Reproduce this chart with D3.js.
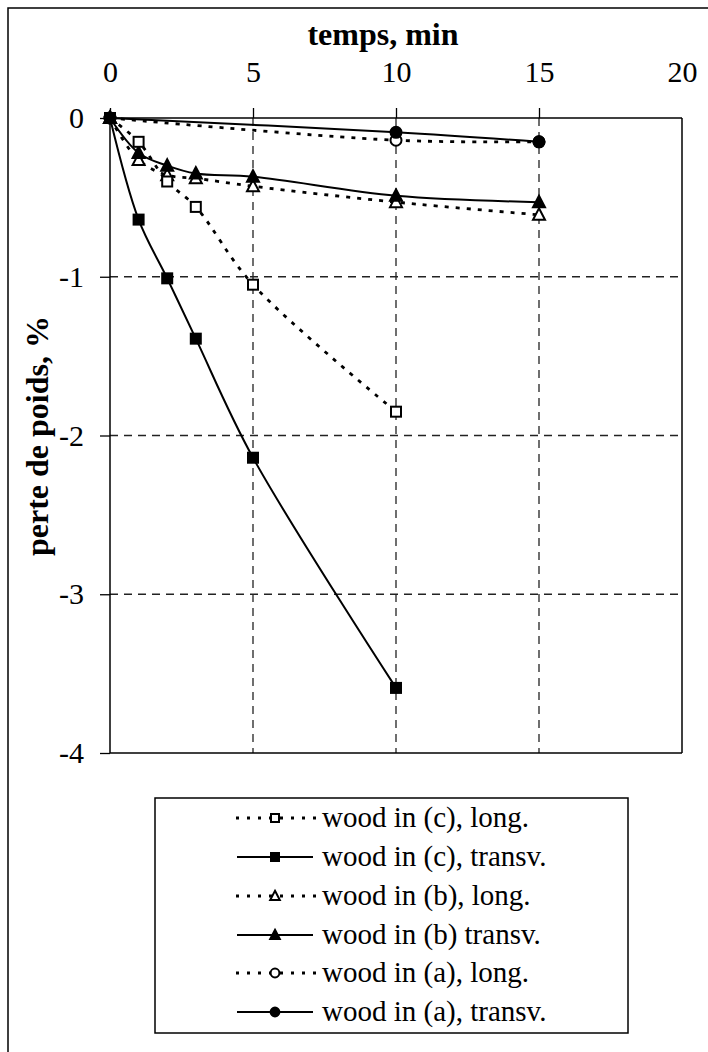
<!DOCTYPE html>
<html><head><meta charset="utf-8">
<script src="https://cdn.jsdelivr.net/npm/d3@7"></script>
<style>body{margin:0;background:#fff}svg{display:block}text{font-family:"Liberation Serif","Times New Roman",serif;fill:#000}</style>
</head><body>
<script>
const xTicks = [0,5,10,15,20];
const yTicks = [0,-1,-2,-3,-4];
const timeC = [0,1,2,3,5,10];
const cLong = [0,-0.15,-0.40,-0.56,-1.05,-1.85];
const cTransv = [0,-0.64,-1.01,-1.39,-2.14,-3.59];
const timeB = [0,1,2,3,5,10,15];
const bLong = [0,-0.265,-0.36,-0.38,-0.43,-0.53,-0.61];
const bTransv = [0,-0.22,-0.30,-0.35,-0.37,-0.49,-0.53];
const timeA = [0,10,15];
const aLong = [0,-0.14,-0.15];
const aTransv = [0,-0.09,-0.15];
const seriesNames = ["wood in (c), long.","wood in (c), transv.","wood in (b), long.","wood in (b) transv.","wood in (a), long.","wood in (a), transv."];

const W=708,H=1052;
const SERIF='"Liberation Serif","Times New Roman",serif';
const svg=d3.select("body").append("svg").attr("width",W).attr("height",H);
svg.append("rect").attr("width",W).attr("height",H).attr("fill","#fff");
svg.append("rect").attr("x",8).attr("y",8).attr("width",W).attr("height",H).attr("fill","none").attr("stroke","#000").attr("stroke-width",1.5);

const x=d3.scaleLinear().domain([0,20]).range([110,682]);
const y=d3.scaleLinear().domain([0,-4]).range([118,753]);

const g=svg.append("g");
g.selectAll(".vg").data(xTicks.filter(d=>d>0&&d<20)).join("line")
 .attr("x1",d=>x(d)).attr("x2",d=>x(d)).attr("y1",y(0)).attr("y2",y(-4))
 .attr("stroke","#222").attr("stroke-width",1.3).attr("stroke-dasharray","8,6");
g.selectAll(".hg").data(yTicks.filter(d=>d<0&&d>-4)).join("line")
 .attr("x1",x(0)).attr("x2",x(20)).attr("y1",d=>y(d)).attr("y2",d=>y(d))
 .attr("stroke","#222").attr("stroke-width",1.3).attr("stroke-dasharray","8,6");
g.append("line").attr("x1",x(20)).attr("x2",x(20)).attr("y1",y(0)).attr("y2",y(-4)).attr("stroke","#000").attr("stroke-width",1.5);
g.append("line").attr("x1",x(0)).attr("x2",x(20)).attr("y1",y(-4)).attr("y2",y(-4)).attr("stroke","#000").attr("stroke-width",1.5);

const xAxis=d3.axisTop(x).tickValues(xTicks).tickSize(10).tickPadding(26).tickFormat(d3.format("d"));
const ax=svg.append("g").attr("transform",`translate(0,${y(0)})`).call(xAxis).attr("font-family",null).attr("font-size",null);
ax.select(".domain").attr("d",`M${x(0)},0H${x(20)}`).attr("stroke","#000").attr("stroke-width",1.5);
ax.selectAll(".tick line").attr("stroke","#000").attr("stroke-width",1.3);
ax.selectAll(".tick text").style("font-size","30px").style("font-family",SERIF);
ax.selectAll(".tick").filter(d=>d===20).select("line").remove();

const yAxis=d3.axisLeft(y).tickValues(yTicks).tickSize(10).tickPadding(16).tickFormat(d=>d===0?"0":"-"+Math.abs(d));
const ay=svg.append("g").attr("transform",`translate(${x(0)},0)`).call(yAxis).attr("font-family",null).attr("font-size",null);
ay.select(".domain").attr("d",`M0,${y(0)}V${y(-4)}`).attr("stroke","#000").attr("stroke-width",1.5);
ay.selectAll(".tick line").attr("stroke","#000").attr("stroke-width",1.3);
ay.selectAll(".tick text").style("font-size","30px").style("font-family",SERIF);

svg.append("text").attr("x",383).attr("y",45).attr("text-anchor","middle").style("font-size","32px").style("font-weight","bold").style("font-family",SERIF).text("temps, min");
svg.append("text").attr("transform","translate(48,436) rotate(-90)").attr("text-anchor","middle").style("font-size","32px").style("font-weight","bold").style("font-family",SERIF).text("perte de poids, %");

const series=[
 {t:timeC,v:cLong,dash:"4,7",shape:"square",fill:false},
 {t:timeC,v:cTransv,dash:null,shape:"square",fill:true},
 {t:timeB,v:bLong,dash:"4,7",shape:"triangle",fill:false},
 {t:timeB,v:bTransv,dash:null,shape:"triangle",fill:true},
 {t:timeA,v:aLong,dash:"4,7",shape:"circle",fill:false},
 {t:timeA,v:aTransv,dash:null,shape:"circle",fill:true}
];
const line=d3.line().x(d=>x(d[0])).y(d=>y(d[1])).curve(d3.curveCatmullRom.alpha(0.5));

function marker(sel,shape,fill,size){
  const s=size||1;
  if(shape==="square"){
    sel.append("rect").attr("x",-5*s).attr("y",-5*s).attr("width",10*s).attr("height",10*s);
  }else if(shape==="triangle"){
    sel.append("path").attr("d",`M0,${-6.5*s}L${6*s},${5*s}L${-6*s},${5*s}Z`);
  }else{
    sel.append("circle").attr("r",5.5*s);
  }
  sel.selectAll("rect,path,circle").attr("fill",fill?"#000":"#fff").attr("stroke","#000").attr("stroke-width",2);
}

const order=[4,5,2,3,0,1];
order.forEach(i=>{
  const s=series[i];
  const pts=s.t.map((t,k)=>[t,s.v[k]]);
  const p=g.append("path").datum(pts).attr("d",line).attr("fill","none").attr("stroke","#000").attr("stroke-width",s.dash?2.8:2);
  if(s.dash) p.attr("stroke-dasharray",s.dash);
  g.selectAll(null).data(pts).join("g").attr("transform",d=>`translate(${x(d[0])},${y(d[1])})`).each(function(){marker(d3.select(this),s.shape,s.fill);});
});

const lg=svg.append("g");
lg.append("rect").attr("x",155).attr("y",798).attr("width",473).attr("height",235).attr("fill","#fff").attr("stroke","#000").attr("stroke-width",1.5);
const rowY=[818,857,896,935,973,1012];
series.forEach((s,i)=>{
  const yy=rowY[i];
  const ln=lg.append("line").attr("x1",s.dash?236:237).attr("x2",s.dash?318:313).attr("y1",yy).attr("y2",yy).attr("stroke","#000").attr("stroke-width",s.dash?2.8:2);
  if(s.dash) ln.attr("stroke-dasharray","3,8");
  const m=lg.append("g").attr("transform",`translate(275,${yy})`);
  marker(m,s.shape,s.fill,0.8);
  lg.append("text").attr("x",322).attr("y",yy+9).style("font-size","29px").style("font-family",SERIF).text(seriesNames[i]);
});
</script>
</body></html>
